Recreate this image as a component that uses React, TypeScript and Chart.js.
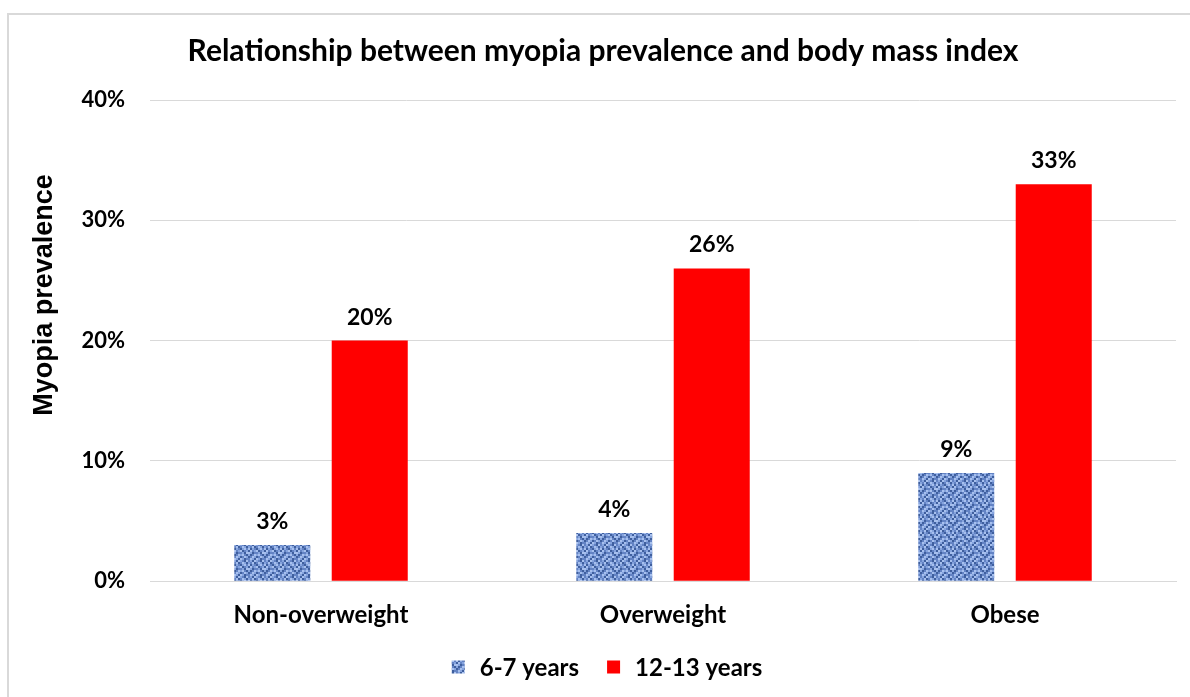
import React, { useEffect, useRef } from "react";
import { Chart, registerables } from "chart.js";

Chart.register(...registerables);

const categories = ["Non-overweight", "Overweight", "Obese"];
const seriesNames = ["6-7 years", "12-13 years"];
const youngValues = [3, 4, 9];
const olderValues = [20, 26, 33];
const yTicks = [0, 10, 20, 30, 40];
const yTitle = "Myopia prevalence";

const FONT = "Lato, 'Open Sans', sans-serif";
const YFONT = "'Liberation Sans', Arial, sans-serif";

const TEX = [
  "21031203",
  "13202130",
  "02313021",
  "30120312",
  "12033201",
  "23102013",
  "01320132",
  "32011320",
];
const TEXCOL = ["#3f5f9e", "#6383c4", "#86a4de", "#a7c0ee"];

function makePattern(): CanvasPattern | string {
  const c = document.createElement("canvas");
  c.width = 16;
  c.height = 16;
  const g = c.getContext("2d");
  if (!g) return "#6f8fcf";
  for (let y = 0; y < 8; y++) {
    for (let x = 0; x < 8; x++) {
      g.fillStyle = TEXCOL[Number(TEX[y][x])];
      g.fillRect(x * 2, y * 2, 2, 2);
    }
  }
  const p = g.createPattern(c, "repeat");
  return p || "#6f8fcf";
}

const framePlugin = {
  id: "frame",
  beforeDraw(chart: any) {
    const ctx = chart.ctx;
    ctx.save();
    ctx.fillStyle = "#ffffff";
    ctx.fillRect(0, 0, chart.width, chart.height);
    ctx.strokeStyle = "#d9d9d9";
    ctx.lineWidth = 2;
    ctx.strokeRect(8, 14, chart.width + 20, chart.height + 20);
    ctx.restore();
  },
  afterDraw(chart: any) {
    const ctx = chart.ctx;
    ctx.save();
    ctx.translate(45, 295);
    ctx.rotate(-Math.PI / 2);
    ctx.font = `bold 27px ${YFONT}`;
    ctx.fillStyle = "#000";
    ctx.textAlign = "center";
    ctx.textBaseline = "middle";
    ctx.fillText(yTitle, 0, 0);
    ctx.restore();

    // legend
    const ds = chart.data.datasets;
    ctx.save();
    ctx.font = `bold 24px ${FONT}`;
    ctx.textBaseline = "middle";
    ctx.textAlign = "left";
    const box = 13;
    const gapText = 15;
    const gapItem = 28;
    const widths = ds.map((d: any) => ctx.measureText(d.label).width);
    let total = 0;
    widths.forEach((w: number, i: number) => {
      total += box + gapText + w + (i < widths.length - 1 ? gapItem : 0);
    });
    let x = chart.width / 2 + 12 - total / 2;
    const cy = 667;
    ds.forEach((d: any, i: number) => {
      ctx.fillStyle = d.backgroundColor;
      ctx.fillRect(x, cy - box / 2, box, box);
      x += box + gapText;
      ctx.fillStyle = "#000";
      ctx.fillText(d.label, x, cy + 1);
      x += widths[i] + gapItem;
    });
    ctx.restore();
  },
};

const labelPlugin = {
  id: "barLabels",
  afterDatasetsDraw(chart: any) {
    const ctx = chart.ctx;
    ctx.save();
    ctx.font = `bold 23px ${FONT}`;
    ctx.fillStyle = "#000000";
    ctx.textAlign = "center";
    ctx.textBaseline = "alphabetic";
    chart.data.datasets.forEach((ds: any, i: number) => {
      const meta = chart.getDatasetMeta(i);
      meta.data.forEach((bar: any, j: number) => {
        ctx.fillText(`${ds.data[j]}%`, bar.x, bar.y - 16);
      });
    });
    ctx.restore();
  },
};

export default function App() {
  const ref = useRef<HTMLCanvasElement>(null);
  useEffect(() => {
    if (!ref.current) return;
    const pattern = makePattern();
    const chart = new Chart(ref.current, {
      type: "bar",
      data: {
        labels: categories,
        datasets: [
          {
            label: seriesNames[0],
            data: youngValues,
            backgroundColor: pattern as any,
            categoryPercentage: 0.57,
            barPercentage: 0.78,
          },
          {
            label: seriesNames[1],
            data: olderValues,
            backgroundColor: "#ff0000",
            categoryPercentage: 0.57,
            barPercentage: 0.78,
          },
        ],
      },
      options: {
        animation: false,
        responsive: false,
        maintainAspectRatio: false,
        layout: { padding: { left: 30, right: 14, top: 14, bottom: 47 } },
        plugins: {
          title: {
            display: true,
            text: "Relationship between myopia prevalence and body mass index",
            color: "#000",
            font: { family: FONT, size: 30, weight: "bold" },
            padding: { top: 19, bottom: 31 },
          },
          legend: { display: false },
          tooltip: { enabled: false },
        },
        scales: {
          x: {
            grid: { display: false, drawTicks: false },
            border: { display: true, color: "#d9d9d9" },
            ticks: {
              color: "#000",
              font: { family: FONT, size: 24, weight: "bold" },
              padding: 20,
            },
          },
          y: {
            min: 0,
            max: 40,
            afterBuildTicks(axis: any) {
              axis.ticks = yTicks.map((v) => ({ value: v }));
            },
            afterFit(axis: any) {
              axis.width = 120;
            },
            grid: { color: "#d9d9d9", drawTicks: false },
            border: { display: false },
            ticks: {
              color: "#000",
              font: { family: FONT, size: 22, weight: "bold" },
              padding: 25,
              callback: (v: any) => `${v}%`,
            },
          },
        },
      },
      plugins: [framePlugin, labelPlugin],
    });
    return () => chart.destroy();
  }, []);
  return (
    <div style={{ position: "fixed", left: 0, top: 0, width: 1190, height: 697 }}>
      <canvas ref={ref} width={1190} height={697} style={{ width: 1190, height: 697 }} />
    </div>
  );
}
